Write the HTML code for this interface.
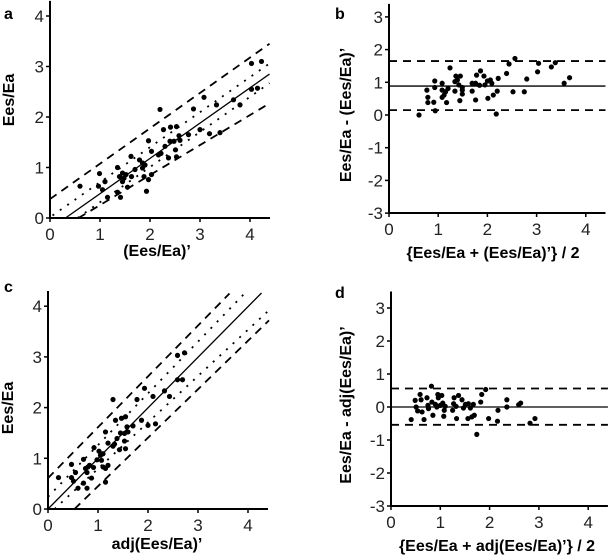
<!DOCTYPE html>
<html><head><meta charset="utf-8">
<style>
html,body{margin:0;padding:0;background:#fff;}
svg{display:block;font-family:"Liberation Sans",Arial,sans-serif;}
</style></head>
<body>
<svg id="fig" width="609" height="560" viewBox="0 0 609 560" xmlns="http://www.w3.org/2000/svg"></svg>
<script>
// Panel a data
const aX = [0.6,0.99,0.97,1.1,1.05,1.15,1.35,1.35,1.41,1.39,1.45,1.48,1.52,1.45,1.55,1.62,1.63,1.7,1.79,1.85,1.85,1.9,1.88,1.97,1.93,2.03,1.97,2.03,2.17,2.2,2.22,2.27,2.3,2.37,2.4,2.41,2.48,2.51,2.53,2.53,2.58,2.6,2.77,2.87,3.0,3.08,3.19,3.33,3.4,3.67,3.8,4.03,4.03,4.15,4.23];
const aY = [0.63,0.88,0.63,0.72,0.56,0.41,1.0,0.51,0.41,0.82,0.89,0.79,0.86,0.72,0.61,1.22,0.82,0.96,1.15,1.09,0.99,1.05,0.82,0.76,0.53,0.86,1.53,1.32,1.25,2.15,1.28,1.75,1.42,1.19,1.52,1.8,1.52,1.35,1.81,1.21,1.63,1.54,1.65,2.16,1.75,2.39,1.67,2.24,1.69,2.34,2.24,3.06,2.55,2.57,3.1];
// Panel b data
const bX = [0.61,0.77,0.79,0.79,0.91,0.93,0.93,0.94,1.08,1.08,1.08,1.12,1.15,1.17,1.2,1.24,1.34,1.36,1.34,1.39,1.45,1.42,1.44,1.49,1.49,1.49,1.69,1.69,1.76,1.76,1.78,1.86,1.84,1.93,1.95,2.0,2.01,2.06,2.09,2.12,2.18,2.2,2.22,2.39,2.44,2.52,2.56,2.75,2.8,3.02,3.04,3.3,3.38,3.56,3.67];
const bY = [0.0,0.76,0.54,0.38,0.39,1.04,0.84,0.13,0.97,0.76,0.54,0.61,0.71,0.38,0.81,1.44,1.02,1.19,0.73,1.07,1.19,0.92,0.44,0.76,0.64,0.84,0.73,0.97,0.97,0.46,1.22,1.35,0.91,1.19,0.92,1.04,0.51,1.07,0.97,0.61,0.03,0.73,1.12,1.27,1.56,0.71,1.73,0.71,1.1,1.32,1.58,1.47,1.6,0.97,1.14];
// Panel c data
const cX = [0.21,0.47,0.47,0.55,0.51,0.6,0.71,0.71,0.78,0.75,0.8,0.78,0.83,0.87,0.91,0.92,0.98,1.02,1.05,1.07,1.1,1.1,1.15,1.15,1.2,1.15,1.2,1.3,1.3,1.33,1.35,1.38,1.43,1.45,1.47,1.53,1.53,1.55,1.55,1.58,1.6,1.7,1.78,1.87,1.93,2.0,2.1,2.15,2.33,2.43,2.59,2.59,2.69,2.73];
const cY = [0.62,0.88,0.62,0.72,0.55,0.41,0.98,0.51,0.41,0.8,0.83,0.72,0.86,0.61,0.82,1.21,0.97,1.14,1.06,0.96,1.09,0.83,0.8,0.53,0.86,1.52,1.3,2.16,1.24,1.28,1.75,1.39,1.17,1.5,1.79,1.49,1.34,1.82,1.19,1.62,1.52,1.64,2.16,1.75,2.38,1.65,2.22,1.68,2.33,2.22,3.03,2.55,2.55,3.08];
// Panel d data
const dX = [0.41,0.49,0.51,0.54,0.59,0.61,0.63,0.67,0.73,0.75,0.76,0.82,0.83,0.85,0.9,0.93,0.95,0.96,1.0,1.03,1.05,1.07,1.08,1.1,1.25,1.27,1.28,1.32,1.33,1.37,1.44,1.47,1.51,1.56,1.57,1.61,1.64,1.67,1.69,1.74,1.82,1.84,1.92,1.98,2.17,2.16,2.35,2.35,2.59,2.63,2.82,2.92];
const dY = [-0.38,0.2,0.0,-0.12,0.38,0.22,-0.15,-0.38,0.28,0.05,-0.05,0.63,0.15,-0.25,0.08,0.0,0.38,0.28,0.05,0.35,0.12,-0.28,-0.1,0.02,-0.1,0.1,0.28,0.02,-0.35,0.35,0.22,-0.03,0.08,-0.35,0.1,-0.03,-0.3,0.08,-0.25,-0.83,0.15,0.38,0.53,-0.35,-0.1,-0.43,0.22,0.0,0.07,0.12,-0.49,-0.35];
// Reference lines [x1,y1,x2,y2] in data units
const aSolid = [0.31,0,4.39,2.85];
const aDashed = [[0,0.375,4.39,3.45],[0.57,0,4.39,2.27]];
const aDotted = [[0.05,0.05,4.39,3.06],[0.55,0,4.39,2.67]];
const bMean = 0.885, bLimits = [1.65,0.15];
const cSolid = [0,0,4.27,4.26];
const cDashed = [[0,0.61,3.63,4.25],[0.53,0,4.42,3.72]];
const cDotted = [[0,0.24,3.93,4.25],[0.13,0,4.42,3.92]];
const dMean = 0.0, dLimits = [0.56,-0.54];
const xTicks = [0,1,2,3,4];
const yTicksAC = [0,1,2,3,4];
const yTicksBD = [-3,-2,-1,0,1,2,3];

const NS='http://www.w3.org/2000/svg';
const svg=document.getElementById('fig');
function mk(tag,attrs,parent){const e=document.createElementNS(NS,tag);for(const k in attrs)e.setAttribute(k,attrs[k]);(parent||svg).appendChild(e);return e;}

function panel(p){
  const g=mk('g',{});
  
  
  const sx=v=>p.x0+(v-0)*p.xs;
  const sy=v=>p.y0-(v-p.ybase)*p.ys;
  // reference lines
  const clip=(l,style,name)=>{const e=mk('line',Object.assign({x1:sx(l[0]),y1:sy(l[1]),x2:sx(l[2]),y2:sy(l[3]),stroke:'#000'},style),g);
    
    };
  (p.dashed||[]).forEach(l=>clip(l,{'stroke-width':1.8,'stroke-dasharray':'8,6'},'limit-line'));
  (p.dotted||[]).forEach(l=>clip(l,{'stroke-width':1.8,'stroke-dasharray':'2,7'},'confidence-line'));
  if(p.solid) clip(p.solid,{'stroke-width':1.3},'regression-line');
  if(p.mean!==undefined){
    clip([0,p.mean,p.xmax,p.mean],{'stroke-width':1.3},'mean-line');
    p.limits.forEach(v=>clip([0,v,p.xmax,v],{'stroke-width':1.8,'stroke-dasharray':'8,6'},'agreement-limit'));
  }
  // points
  p.xs_d.forEach((xv,i)=>{const c=mk('circle',{cx:sx(xv),cy:sy(p.ys_d[i]),r:2.6,fill:'#000'},g);
    
    });
  // axes
  const ax=mk('line',{x1:sx(0),y1:p.axisY,x2:sx(p.xmax),y2:p.axisY,stroke:'#000','stroke-width':2},g);
  
  
  const ay=mk('line',{x1:p.x0,y1:p.axisY+1,x2:p.x0,y2:sy(p.ymax),stroke:'#000','stroke-width':2},g);
  
  
  xTicks.forEach(t=>{mk('line',{x1:sx(t),y1:p.axisY,x2:sx(t),y2:p.axisY+4,stroke:'#000','stroke-width':1.5},g);
    const tx=mk('text',{x:sx(t),y:p.axisY+22,'text-anchor':'middle','font-size':17,fill:'#222'},g);tx.textContent=t;
    
    });
  p.yticks.forEach(t=>{mk('line',{x1:p.x0-4,y1:sy(t),x2:p.x0,y2:sy(t),stroke:'#000','stroke-width':1.5},g);
    const tx=mk('text',{x:p.x0-6,y:sy(t)+6,'text-anchor':'end','font-size':17,fill:'#222'},g);tx.textContent=t;
    
    });
  const lt=mk('text',{x:p.lx,y:p.ly,'font-size':16,'font-weight':'bold'},g);lt.textContent=p.id;
  
  
  const xt=mk('text',{x:p.xtx,y:p.xty,'text-anchor':'middle','font-size':16,'font-weight':'bold'},g);xt.textContent=p.xtitle;
  
  
  const yt=mk('text',{x:0,y:0,'text-anchor':'middle','font-size':16,'font-weight':'bold',transform:`translate(${p.ytx},${p.yty}) rotate(-90)`},g);yt.textContent=p.ytitle;
  
  
}

panel({id:'a',x0:50,xs:50,y0:218,ybase:0,ys:50.5,axisY:218,xmax:4.4,ymax:4.3,yticks:yTicksAC,
  xs_d:aX,ys_d:aY,solid:aSolid,dashed:aDashed,dotted:aDotted,
  lx:4,ly:19,xtitle:"(Ees/Ea)’",xtx:157,xty:256,ytitle:"Ees/Ea",ytx:14,yty:100});
panel({id:'b',x0:389,xs:49.2,y0:115,ybase:0,ys:32.7,axisY:213,xmax:4.4,ymax:3.4,yticks:yTicksBD,
  xs_d:bX,ys_d:bY,mean:bMean,limits:bLimits,
  lx:335,ly:19,xtitle:"{Ees/Ea + (Ees/Ea)’} / 2",xtx:493,xty:258,ytitle:"Ees/Ea - (Ees/Ea)’",ytx:351,yty:115});
panel({id:'c',x0:48,xs:50,y0:509,ybase:0,ys:50.7,axisY:509,xmax:4.4,ymax:4.3,yticks:yTicksAC,
  xs_d:cX,ys_d:cY,solid:cSolid,dashed:cDashed,dotted:cDotted,
  lx:4,ly:292,xtitle:"adj(Ees/Ea)’",xtx:157,xty:549,ytitle:"Ees/Ea",ytx:13,yty:408});
panel({id:'d',x0:391,xs:49.3,y0:407,ybase:0,ys:33,axisY:506,xmax:4.4,ymax:3.5,yticks:yTicksBD,
  xs_d:dX,ys_d:dY,mean:dMean,limits:dLimits,
  lx:335,ly:298,xtitle:"{Ees/Ea + adj(Ees/Ea)’} / 2",xtx:497,xty:551,ytitle:"Ees/Ea - adj(Ees/Ea)’",ytx:351,yty:405});
</script>
</body></html>
